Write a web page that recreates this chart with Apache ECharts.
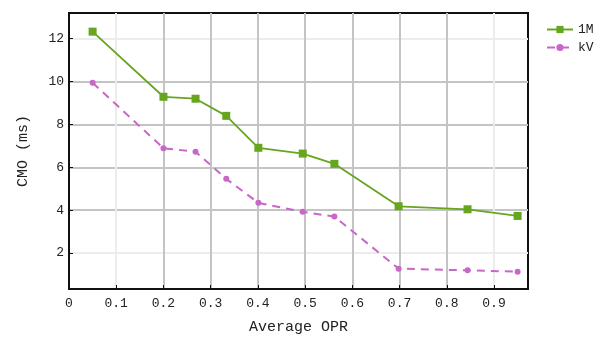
<!DOCTYPE html>
<html>
<head>
<meta charset="utf-8">
<script src="https://cdn.jsdelivr.net/npm/echarts@6/dist/echarts.min.js"></script>
<style>html,body{margin:0;padding:0;background:#fff}#c{width:595px;height:340px}</style>
</head>
<body>
<div id="c"></div>
<script>
const xOPR = [0.05, 0.2, 0.268, 0.333, 0.401, 0.495, 0.562, 0.698, 0.844, 0.95];
const series1M = [12.33, 9.29, 9.20, 8.40, 6.91, 6.64, 6.16, 4.18, 4.04, 3.73];
const seriesKV = [9.94, 6.89, 6.73, 5.46, 4.34, 3.92, 3.70, 1.27, 1.19, 1.13];
const xTicks = [0, 0.1, 0.2, 0.3, 0.4, 0.5, 0.6, 0.7, 0.8, 0.9];
const yTicks = [2, 4, 6, 8, 10, 12];
const seriesNames = ['1M', 'kV'];

const FONT = '"Liberation Mono", "DejaVu Sans Mono", monospace';
const LIGHT = '#ececec', GRAY = '#c4c4c4';

const chart = echarts.init(document.getElementById('c'), null, {renderer: 'canvas'});
chart.setOption({
  animation: false,
  textStyle: {fontFamily: FONT},
  grid: {left: 69, right: 67, top: 13, bottom: 51, show: true, borderColor: '#111', borderWidth: 2, containLabel: false},
  legend: {
    orient: 'vertical', left: 541, top: 18, itemWidth: 26, itemHeight: 9, itemGap: 5,
    textStyle: {fontFamily: FONT, fontSize: 13, color: '#222'},
    data: seriesNames
  },
  xAxis: {
    type: 'value', min: 0, max: 0.972,
    name: 'Average OPR', nameLocation: 'middle', nameGap: 31,
    nameTextStyle: {fontFamily: FONT, fontSize: 15, color: '#222'},
    axisLine: {show: true, onZero: false, lineStyle: {color: '#111', width: 2}},
    axisTick: {show: true, inside: true, length: 4, customValues: xTicks, lineStyle: {color: '#111', width: 1}},
    axisLabel: {customValues: xTicks, margin: 8, fontFamily: FONT, fontSize: 13, color: '#222'},
    splitLine: {show: true, lineStyle: {width: 2, color: [GRAY, LIGHT, GRAY, GRAY, GRAY, GRAY, GRAY, GRAY, GRAY, LIGHT]}}
  },
  yAxis: {
    type: 'value', min: 0.32, max: 13.2,
    name: 'CMO (ms)', nameLocation: 'middle', nameGap: 38, nameRotate: 90,
    nameTextStyle: {fontFamily: FONT, fontSize: 15, color: '#222'},
    axisLine: {show: true, onZero: false, lineStyle: {color: '#111', width: 2}},
    axisTick: {show: true, inside: true, length: 4, customValues: yTicks, lineStyle: {color: '#111', width: 1}},
    axisLabel: {customValues: yTicks, margin: 5, fontFamily: FONT, fontSize: 13, color: '#222'},
    splitLine: {show: true, lineStyle: {width: 2, color: [LIGHT, GRAY, GRAY, GRAY, GRAY, LIGHT]}}
  },
  series: [
    {
      name: seriesNames[0], type: 'line',
      data: xOPR.map((x, i) => [x, series1M[i]]),
      symbol: 'rect', symbolSize: 8,
      itemStyle: {color: '#66a61e'},
      lineStyle: {color: '#66a61e', width: 1.8}
    },
    {
      name: seriesNames[1], type: 'line',
      data: xOPR.map((x, i) => [x, seriesKV[i]]),
      symbol: 'circle', symbolSize: 6,
      itemStyle: {color: '#c867c8'},
      lineStyle: {color: '#c867c8', width: 2, type: [8, 6]}
    }
  ]
});
</script>
</body>
</html>
